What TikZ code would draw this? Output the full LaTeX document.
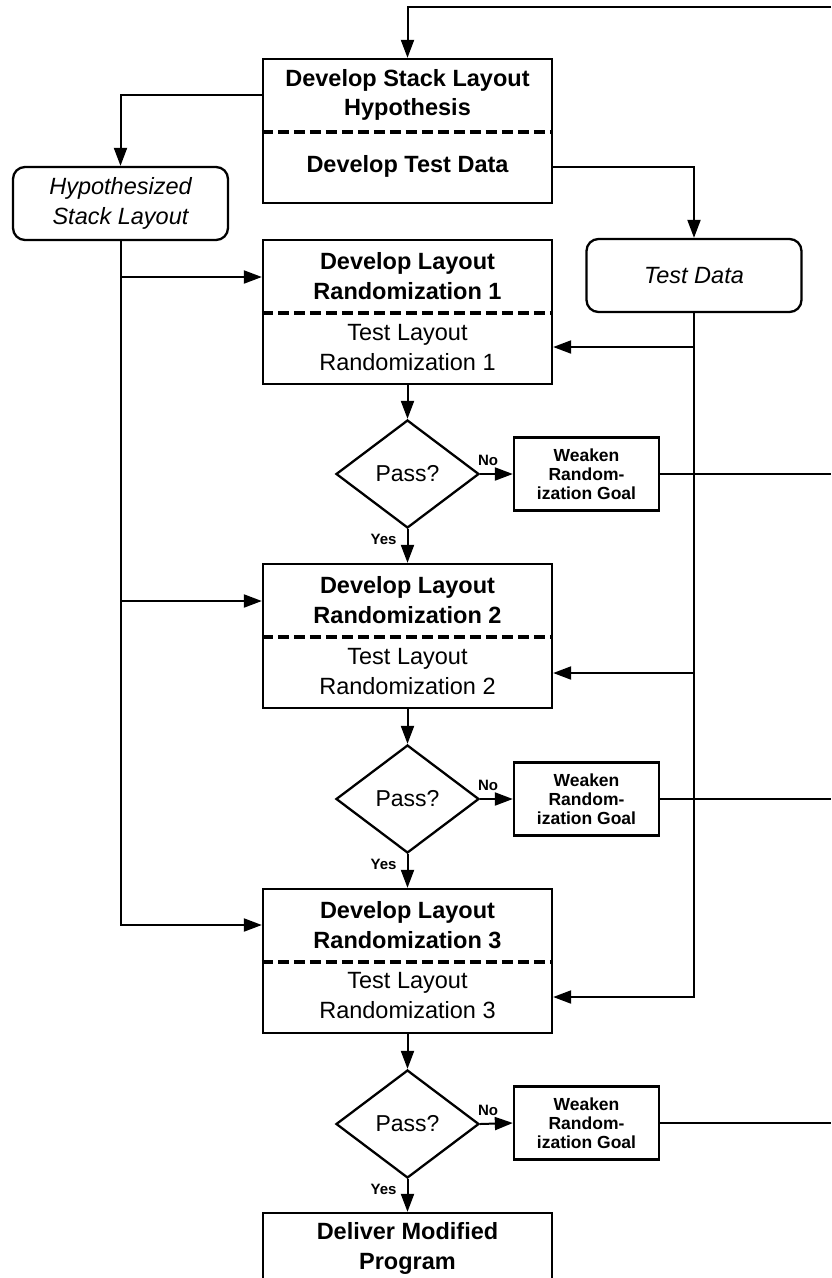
\documentclass[tikz,border=0pt]{standalone}
\usepackage{fontspec}
\setmainfont{Liberation Sans}
\usetikzlibrary{shapes.geometric,arrows.meta}
\begin{document}
\begin{tikzpicture}[x=1pt,y=-1pt,
  line width=2pt,
  pbox/.style={draw, line width=2.3pt, minimum width=289pt, minimum height=144pt, inner sep=0pt},
  dbox/.style={draw, line width=2.3pt, rounded corners=12pt, minimum width=215pt, minimum height=73pt, inner sep=0pt, align=center, font=\fontsize{23.5}{30}\selectfont\itshape},
  wbox/.style={draw, line width=2.3pt, minimum width=145pt, minimum height=73pt, inner sep=0pt, align=center, font=\fontsize{17.5}{19}\selectfont\bfseries},
  dec/.style={draw, shape=diamond, line width=2.3pt, minimum width=143pt, minimum height=108pt, inner sep=0pt, font=\fontsize{23}{28}\selectfont},
  bt/.style={inner sep=0pt, align=center, font=\fontsize{23.5}{29.5}\selectfont\bfseries},
  rt/.style={inner sep=0pt, align=center, font=\fontsize{23.5}{30}\selectfont},
  lt/.style={inner sep=0pt, font=\fontsize{15}{17}\selectfont\bfseries},
  sep/.style={line width=3.4pt, dash pattern=on 11pt off 5pt},
  arr/.style={-{Triangle[length=18pt,width=13pt]}}
]
\useasboundingbox (0,0) rectangle (831,1278);
\clip (0,0) rectangle (831,1278);
\fill[white] (0,0) rectangle (831,1278);

\coordinate (R) at (831,0);
\coordinate (topR) at (831,7);

% process boxes
\node[pbox] (B1) at (407.5,131) {};
\node[pbox] (B2) at (407.5,312) {};
\node[pbox] (B3) at (407.5,636) {};
\node[pbox] (B4) at (407.5,961) {};
\node[pbox] (B5) at (407.5,1285) {};

\draw[sep] ([yshift=-1pt]B1.west) -- ([yshift=-1pt]B1.east);
\draw[sep] ([yshift=-1pt]B2.west) -- ([yshift=-1pt]B2.east);
\draw[sep] ([yshift=-1pt]B3.west) -- ([yshift=-1pt]B3.east);
\draw[sep] ([yshift=-1pt]B4.west) -- ([yshift=-1pt]B4.east);

\node[bt] (b1a) at (407.5,95) {Develop Stack Layout\\Hypothesis};
\node[bt] (b1b) at (407.5,166) {Develop Test Data};
\node[bt] (b2a) at (407.5,276) {Develop Layout\\Randomization 1};
\node[rt] (b2b) at (407.5,347.5) {Test Layout\\Randomization 1};
\node[bt] (b3a) at (407.5,600) {Develop Layout\\Randomization 2};
\node[rt] (b3b) at (407.5,671.5) {Test Layout\\Randomization 2};
\node[bt] (b4a) at (407.5,925) {Develop Layout\\Randomization 3};
\node[rt] (b4b) at (407.5,996) {Test Layout\\Randomization 3};
\node[bt] (b5a) at (407.5,1248.5) {Deliver Modified\\Program};

% data boxes
\node[dbox] (H) at (120.5,203.5) {Hypothesized\\Stack Layout};
\node[dbox] (T) at (694,275.5) {Test Data};

% decisions
\node[dec] (D1) at (407.5,474) {Pass?};
\node[dec] (D2) at (407.5,799) {Pass?};
\node[dec] (D3) at (407.5,1124) {Pass?};

% weaken boxes
\node[wbox] (W1) at (586.5,474) {Weaken\\Random-\\ization Goal};
\node[wbox] (W2) at (586.5,799) {Weaken\\Random-\\ization Goal};
\node[wbox] (W3) at (586.5,1123) {Weaken\\Random-\\ization Goal};

% top connections
\draw[arr] (topR) -| (B1.north);
\draw[arr] ([yshift=36pt]B1.west) -| (H.north);
\draw[arr] ([yshift=-36pt]B1.east) -| (T.north);

% hypothesized layout feeds
\coordinate (b2in) at ([yshift=35pt]B2.west);
\coordinate (b3in) at ([yshift=35pt]B3.west);
\coordinate (b4in) at ([yshift=36pt]B4.west);
\draw[arr] (H.south) |- (b4in);
\draw[arr] (H.south |- b2in) -- (b2in);
\draw[arr] (H.south |- b3in) -- (b3in);

% test data feeds
\coordinate (b2t) at ([yshift=-35pt]B2.east);
\coordinate (b3t) at ([yshift=-37pt]B3.east);
\coordinate (b4t) at ([yshift=-36pt]B4.east);
\draw[arr] (T.south) |- (b4t);
\draw[arr] (T.south |- b2t) -- (b2t);
\draw[arr] (T.south |- b3t) -- (b3t);

% main flow
\draw[arr] (B2.south) -- (D1.north);
\draw[arr] (D1.south) -- (B3.north);
\draw[arr] (B3.south) -- (D2.north);
\draw[arr] (D2.south) -- (B4.north);
\draw[arr] (B4.south) -- (D3.north);
\draw[arr] (D3.south) -- (B5.north);

% no branches
\draw[arr] (D1.east) -- (W1.west);
\draw[arr] (D2.east) -- (W2.west);
\draw[arr] (D3.east) -- (W3.west);
\draw (W1.east) -- (W1.east -| R);
\draw (W2.east) -- (W2.east -| R);
\draw (W3.east) -- (W3.east -| R);

% labels
\node[lt] (n1) at ([xshift=8pt,yshift=14pt]D1.east) {No};
\node[lt] (n2) at ([xshift=8pt,yshift=14pt]D2.east) {No};
\node[lt] (n3) at ([xshift=8pt,yshift=14pt]D3.east) {No};
\node[lt] (y1) at ([xshift=-24pt,yshift=-10pt]D1.south) {Yes};
\node[lt] (y2) at ([xshift=-24pt,yshift=-10pt]D2.south) {Yes};
\node[lt] (y3) at ([xshift=-24pt,yshift=-10pt]D3.south) {Yes};
\end{tikzpicture}
\end{document}
